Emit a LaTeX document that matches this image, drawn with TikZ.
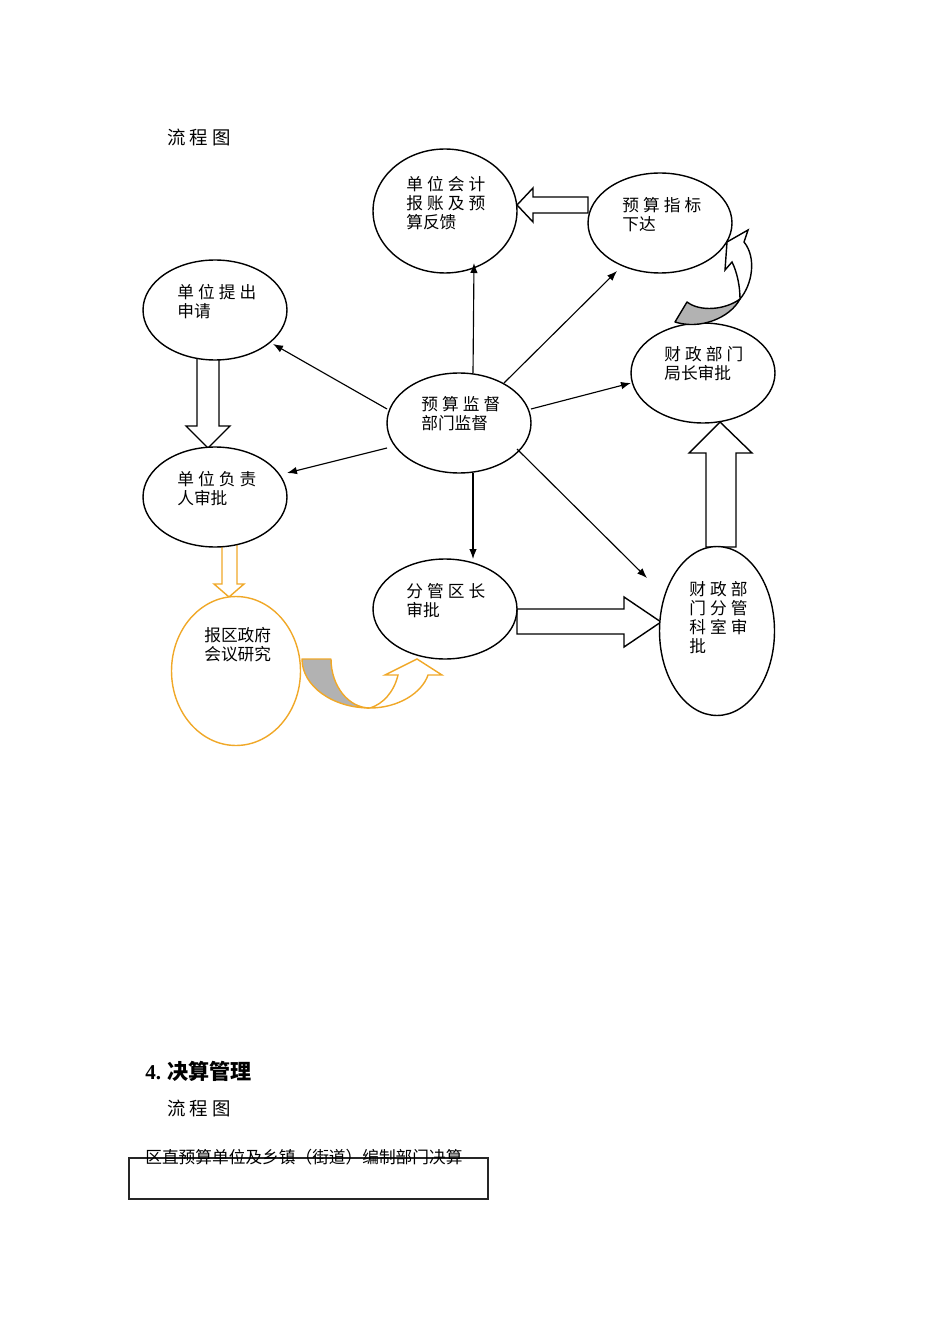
\documentclass[tikz,border=0pt]{standalone}
\usepackage{fontspec}
\setmainfont{Noto Sans CJK SC}
\newfontfamily\numfont{Liberation Serif}
\usetikzlibrary{arrows.meta,calc,shapes.geometric}
\pgfdeclarelayer{bg}
\pgfsetlayers{bg,main}
\definecolor{org}{RGB}{240,168,40}
\definecolor{shade}{RGB}{178,178,178}
\newcommand\gp{\hspace{2.3pt}}
\begin{document}
\begin{tikzpicture}[x=0.02cm,y=-0.02cm,
  bub/.style={draw=black, fill=white, ellipse, inner sep=0pt, outer sep=0pt, line width=0.8pt},
  lbl/.style={anchor=north west, inner sep=0pt, align=left, font=\fontsize{9.5}{10.8}\selectfont},
  arr/.style={-{Latex[length=2mm,width=1.5mm]}, line width=0.65pt},
  blk/.style={draw=black, fill=white, line width=0.8pt, line join=miter},
  oblk/.style={draw=org, fill=white, line width=0.8pt, line join=miter},
  ]
\useasboundingbox (0,0) rectangle (950,1344);

% ---------- ellipses ----------
\node[bub, minimum width=2.88cm, minimum height=2.48cm] (kj) at (445,211) {};
\node[bub, minimum width=2.88cm, minimum height=2.0cm] (zb) at (660,223) {};
\node[bub, minimum width=2.88cm, minimum height=2.0cm] (sq) at (215,310) {};
\node[bub, minimum width=2.88cm, minimum height=2.0cm] (jz) at (703,373) {};
\node[bub, minimum width=2.88cm, minimum height=2.0cm] (jd) at (459,423) {};
\node[bub, minimum width=2.88cm, minimum height=2.0cm] (fz) at (215,497) {};
\node[bub, minimum width=2.88cm, minimum height=2.0cm] (qz) at (445,609) {};
\node[bub, minimum width=2.30cm, minimum height=3.38cm] (ks) at (717,631) {};
\node[bub, draw=org, minimum width=2.58cm, minimum height=2.98cm] (hy) at (236,671) {};

% ---------- labels ----------
\node[lbl] (tkj) at (406,176) {单\gp 位\gp 会\gp 计\\报\gp 账\gp 及\gp 预\\算反馈};
\node[lbl] (tzb) at (622,197) {预\gp 算\gp 指\gp 标\\下达};
\node[lbl] (tsq) at (177,284) {单\gp 位\gp 提\gp 出\\申请};
\node[lbl] (tjz) at (664,346) {财\gp 政\gp 部\gp 门\\局长审批};
\node[lbl] (tjd) at (421,396) {预\gp 算\gp 监\gp 督\\部门监督};
\node[lbl] (tfz) at (177,471) {单\gp 位\gp 负\gp 责\\人审批};
\node[lbl] (tqz) at (406,583) {分\gp 管\gp 区\gp 长\\审批};
\node[lbl] (tks) at (689,581) {财\gp 政\gp 部\\门\gp 分\gp 管\\科\gp 室\gp 审\\批};
\node[lbl] (thy) at (204,627) {报区政府\\会议研究};

% ---------- block arrows ----------
\begin{pgfonlayer}{bg}
\draw[blk] (588,197) -- (533,197) -- (533,188) -- (517,205) -- (533,222) -- (533,213) -- (588,213) -- cycle;
\draw[blk] (197,354) -- (197,426) -- (186,426) -- (208,448) -- (230,426) -- (219,426) -- (219,354);
\draw[blk] (706,547) -- (706,453) -- (689,453) -- (720,422) -- (752,453) -- (736,453) -- (736,547) -- cycle;
\draw[blk] (517,609) -- (624,609) -- (624,597) -- (661,622) -- (624,647) -- (624,634) -- (517,634) -- cycle;
\draw[oblk] (222,543) -- (222,584) -- (214,584) -- (229,597) -- (244,584) -- (237,584) -- (237,543);
\end{pgfonlayer}

% ---------- curved arrows ----------
\draw[line width=0.8pt, draw=org, fill=shade, line join=round]
  (302,659) -- (331,659) .. controls (331,686) and (348.5,708) .. (370,708)
  .. controls (332.5,708) and (302,686) .. (302,659) -- cycle;
\draw[line width=0.8pt, draw=org, fill=white, line join=miter]
  (370,708) .. controls (398,708) and (422,693) .. (428,675) -- (442,675) -- (417,659)
  -- (385,675) -- (398,675) .. controls (394,692) and (383,704) .. (370,708) -- cycle;

\draw[line width=0.8pt, draw=black, fill=shade, line join=round]
  (687,302) .. controls (700,312) and (725,310) .. (740,299)
  .. controls (730,318) and (700,330) .. (675,322) -- cycle;
\draw[line width=0.8pt, draw=black, fill=white, line join=miter]
  (740,299) .. controls (752,285) and (757,258) .. (744,242) -- (748,230) -- (727,242)
  -- (725,270) -- (732,262) .. controls (737,272) and (740,286) .. (740,299) -- cycle;

% ---------- thin arrows ----------
\draw[arr] ($(jd.center)+(14,-50)$) -- ($(kj.center)+(29,52)$);
\draw[arr] ($(jd.center)+(45,-40)$) -- ($(zb.center)+(-43,48)$);
\draw[arr] ($(jd.center)+(72,-14)$) -- ($(jz.center)+(-72,10)$);
\draw[arr] ($(jd.center)+(58,26)$) -- ($(ks.center)+(-70,-53)$);
\draw[arr] ($(jd.center)+(14,50)$) -- ($(qz.center)+(28,-50)$);
\draw[arr] ($(jd.center)+(-72,25)$) -- ($(fz.center)+(72,-24)$);
\draw[arr] ($(jd.center)+(-72,-14)$) -- ($(sq.center)+(58,34)$);

% ---------- page texts ----------
\node[anchor=west, inner sep=0pt, font=\fontsize{10.5}{12}\selectfont] (lc1) at (167,137) {流\gp 程\gp 图};
\node[anchor=west, inner sep=0pt, font=\fontsize{12}{14}\selectfont\bfseries] (h4) at (145,1071) {{\numfont 4.}\hspace{3.5pt}决算管理};
\node[anchor=west, inner sep=0pt, font=\fontsize{10.5}{12}\selectfont] (lc2) at (167,1108) {流\gp 程\gp 图};
\node[draw=black!85, line width=0.8pt, minimum width=7.18cm, minimum height=0.82cm, inner sep=0pt] (js) at (308.5,1178.5) {};
\node[anchor=west, inner sep=0pt, font=\fontsize{9.5}{11}\selectfont] (tjs) at (145,1157) {区直预算单位及乡镇（街道）编制部门决算};
\end{tikzpicture}
\end{document}
